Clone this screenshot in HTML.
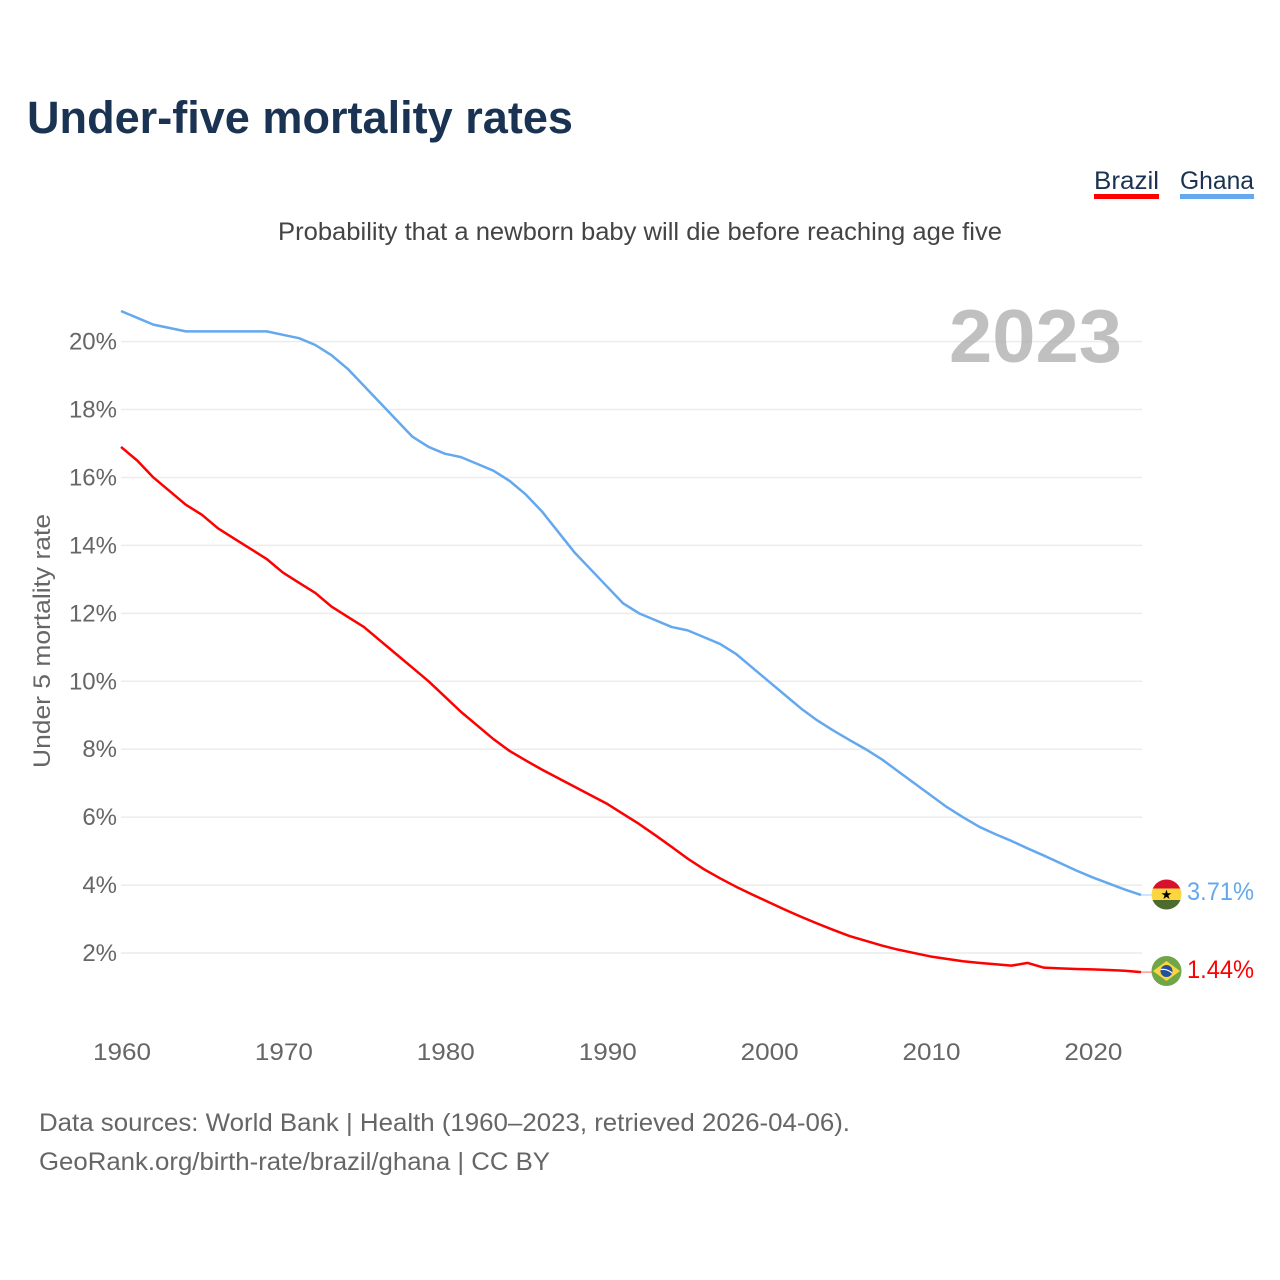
<!DOCTYPE html>
<html lang="en">
<head>
<meta charset="utf-8">
<title>Under-five mortality rates</title>
<style>
html,body{margin:0;padding:0;background:#fff;width:1280px;height:1280px;overflow:hidden}
svg{display:block;font-family:"Liberation Sans",sans-serif}
</style>
</head>
<body>
<svg id="chart" xmlns="http://www.w3.org/2000/svg" width="1280" height="1280" viewBox="0 0 1280 1280">
  <defs>
    <clipPath id="ghana-clip"><circle cx="1166.5" cy="894.5" r="15"/></clipPath>
    <clipPath id="brazil-clip"><circle cx="1166.5" cy="971" r="15"/></clipPath>
  </defs>
  <rect width="1280" height="1280" fill="#fff"/>
  <text x="27" y="133" font-size="45" font-weight="700" fill="#1a3353" textLength="546" lengthAdjust="spacingAndGlyphs">Under-five mortality rates</text>
  <text x="278" y="240" font-size="25" fill="#444" textLength="724" lengthAdjust="spacingAndGlyphs">Probability that a newborn baby will die before reaching age five</text>

  <g>
    <text x="1094" y="189" font-size="25" fill="#1a3353" textLength="65" lengthAdjust="spacingAndGlyphs">Brazil</text>
    <rect x="1094" y="194" width="65" height="5" fill="#ff0000"/>
  </g>
  <g>
    <text x="1180" y="189" font-size="25" fill="#1a3353" textLength="74" lengthAdjust="spacingAndGlyphs">Ghana</text>
    <rect x="1180" y="194" width="74" height="5" fill="#64a8ee"/>
  </g>

  <g id="grid"></g>
  <text x="949" y="362" font-size="75" font-weight="700" fill="#a8a8a8" fill-opacity="0.72" textLength="173" lengthAdjust="spacingAndGlyphs">2023</text>
  <g id="y-ticks"></g>
  <g id="x-ticks"></g>
  <text transform="translate(50,641) rotate(-90)" text-anchor="middle" font-size="24" fill="#666" textLength="254" lengthAdjust="spacingAndGlyphs">Under 5 mortality rate</text>
  <g id="series"></g>

  <g clip-path="url(#ghana-clip)">
    <rect x="1151" y="879" width="31" height="10" fill="#d8102f"/>
    <rect x="1151" y="888.5" width="31" height="11.5" fill="#fcd640"/>
    <rect x="1151" y="900" width="31" height="11" fill="#4d6a2f"/>
    <text x="1166.5" y="899" text-anchor="middle" font-size="13" fill="#000" font-family="'DejaVu Sans',sans-serif">★</text>
  </g>
  <g clip-path="url(#brazil-clip)">
    <rect x="1151" y="955" width="31" height="32" fill="#70a548"/>
    <polygon points="1166.5,961 1180,971 1166.5,981 1153,971" fill="#fcd640"/>
    <circle cx="1166.5" cy="971" r="6" fill="#24509c"/>
    <path d="M1160.7 969.5 Q1167 968.5 1172 973" stroke="#fff" stroke-width="1.2" fill="none"/>
  </g>

  <text id="label-ghana" x="1187" y="900" font-size="25" fill="#64a8ee" textLength="67" lengthAdjust="spacingAndGlyphs">3.71%</text>
  <text id="label-brazil" x="1187" y="978" font-size="25" fill="#ff0000" textLength="67" lengthAdjust="spacingAndGlyphs">1.44%</text>

  <text x="39" y="1131" font-size="25" fill="#666" textLength="811" lengthAdjust="spacingAndGlyphs">Data sources: World Bank | Health (1960–2023, retrieved 2026-04-06).</text>
  <text x="39" y="1170" font-size="25" fill="#666" textLength="511" lengthAdjust="spacingAndGlyphs">GeoRank.org/birth-rate/brazil/ghana | CC BY</text>
</svg>
<script>
const startYear = 1960;
const yTickValues = [2, 4, 6, 8, 10, 12, 14, 16, 18, 20];
const xTickYears = [1960, 1970, 1980, 1990, 2000, 2010, 2020];
const brazilValues = [16.9,16.5,16.0,15.6,15.2,14.9,14.5,14.2,13.9,13.6,13.2,12.9,12.6,12.2,11.9,11.6,11.2,10.8,10.4,10.0,9.55,9.1,8.7,8.3,7.95,7.67,7.4,7.15,6.9,6.65,6.4,6.1,5.8,5.47,5.13,4.78,4.47,4.2,3.95,3.72,3.5,3.28,3.07,2.87,2.68,2.5,2.36,2.22,2.1,2.0,1.9,1.83,1.76,1.71,1.67,1.63,1.71,1.57,1.55,1.53,1.52,1.5,1.48,1.44];
const ghanaValues = [20.9,20.7,20.5,20.4,20.3,20.3,20.3,20.3,20.3,20.3,20.2,20.1,19.9,19.6,19.2,18.7,18.2,17.7,17.2,16.9,16.7,16.6,16.4,16.2,15.9,15.5,15.0,14.4,13.8,13.3,12.8,12.3,12.0,11.8,11.6,11.5,11.3,11.1,10.8,10.4,10.0,9.6,9.2,8.85,8.55,8.27,8.0,7.7,7.35,7.0,6.65,6.3,6.0,5.72,5.5,5.3,5.08,4.87,4.65,4.43,4.23,4.05,3.87,3.71];

const NS = 'http://www.w3.org/2000/svg';
const xScale = year => 121 + (year - 1960) * (1020 / 63);
const yScale = value => 1021 - value * 33.97;
const make = (tag, parent) => {
  const el = document.createElementNS(NS, tag);
  document.getElementById(parent).appendChild(el);
  return el;
};
const points = values => values.map((v, i) => xScale(startYear + i).toFixed(2) + ',' + yScale(v).toFixed(2)).join(' ');

yTickValues.forEach(v => {
  const line = make('line', 'grid');
  
  
  line.setAttribute('x1', 121);
  line.setAttribute('x2', 1142);
  line.setAttribute('y1', yScale(v));
  line.setAttribute('y2', yScale(v));
  line.setAttribute('stroke', '#ececec');
  line.setAttribute('stroke-width', 1.5);

  const label = make('text', 'y-ticks');
  
  
  label.setAttribute('x', 117);
  label.setAttribute('y', yScale(v) + 8);
  label.setAttribute('text-anchor', 'end');
  label.setAttribute('font-size', 24);
  label.setAttribute('fill', '#666');
  label.textContent = v + '%';
});

xTickYears.forEach(year => {
  const label = make('text', 'x-ticks');
  
  
  label.setAttribute('x', xScale(year) - 28);
  label.setAttribute('y', 1060);
  label.setAttribute('font-size', 24);
  label.setAttribute('fill', '#666');
  label.setAttribute('textLength', 58);
  label.setAttribute('lengthAdjust', 'spacingAndGlyphs');
  label.textContent = String(year);
});

const drawSeries = (values, color, name) => {
  const line = make('polyline', 'series');
  
  
  line.setAttribute('points', points(values));
  line.setAttribute('fill', 'none');
  line.setAttribute('stroke', color);
  line.setAttribute('stroke-width', 2.5);
  line.setAttribute('stroke-linejoin', 'round');

  const last = values[values.length - 1];
  const stub = make('line', 'series');
  
  
  stub.setAttribute('x1', xScale(startYear + values.length - 1));
  stub.setAttribute('x2', 1152);
  stub.setAttribute('y1', yScale(last));
  stub.setAttribute('y2', yScale(last));
  stub.setAttribute('stroke', color);
  stub.setAttribute('stroke-width', 1);
  stub.setAttribute('stroke-opacity', 0.6);
};
drawSeries(ghanaValues, '#64a8ee', 'line-ghana');
drawSeries(brazilValues, '#ff0000', 'line-brazil');
</script>
</body>
</html>
